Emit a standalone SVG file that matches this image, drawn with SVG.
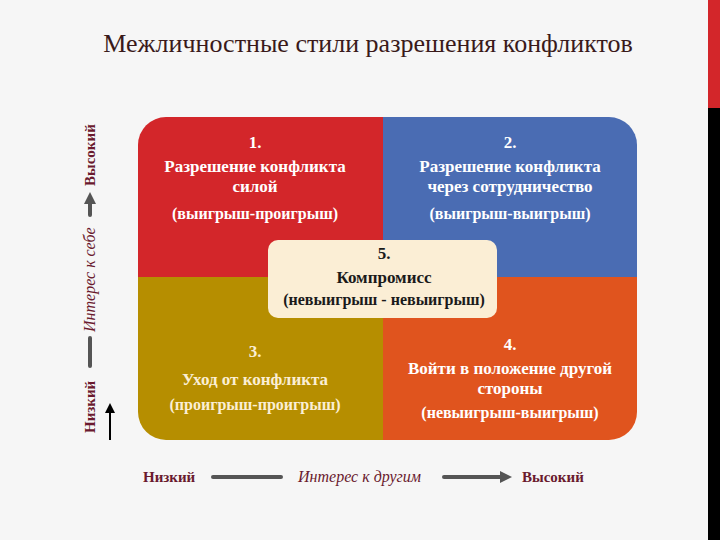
<svg xmlns="http://www.w3.org/2000/svg" width="720" height="540" viewBox="0 0 720 540">
<defs>
<style>
.s{font-family:"Liberation Serif",serif;font-weight:bold}
.q{font-size:17px;text-anchor:middle}
.p{font-size:16px}
.ax{font-family:"Liberation Serif",serif;font-weight:bold;fill:#6a1a2e;font-size:15px}
.it{font-style:italic;font-weight:normal;font-size:16px}
.ln{stroke:#555;stroke-width:4;stroke-linecap:round}
</style>
<marker id="ah" viewBox="0 0 10 10" refX="5" refY="5" markerWidth="3" markerHeight="3" orient="auto"><path d="M0,0L10,5L0,10z" fill="#555"/></marker>
<marker id="bh" viewBox="0 0 10 10" refX="5" refY="5" markerWidth="5" markerHeight="5" orient="auto"><path d="M0,0L10,5L0,10z" fill="#000"/></marker>
<clipPath id="c"><rect x="138" y="117" width="499" height="323" rx="28"/></clipPath>
</defs>
<rect width="720" height="540" fill="#f6f6f6"/>
<rect x="708" y="0" width="12" height="108" fill="#d3262a"/>
<rect x="708" y="108" width="12" height="432" fill="#000"/>
<text x="368" y="52" font-family="Liberation Serif,serif" font-size="26" fill="#3a1a1a" text-anchor="middle">Межличностные стили разрешения конфликтов</text>
<g id="matrix" clip-path="url(#c)">
<rect x="138" y="117" width="245" height="160" fill="#d3262a"/>
<rect x="383" y="117" width="254" height="160" fill="#4a6cb3"/>
<rect x="138" y="277" width="245" height="163" fill="#b68e00"/>
<rect x="383" y="277" width="254" height="163" fill="#e0541e"/>
</g>
<g id="q1" class="s q" fill="#fff">
<text x="255" y="148">1.</text>
<text x="255" y="172">Разрешение конфликта</text>
<text x="255" y="192">силой</text>
<text x="255" y="219" class="p">(выигрыш-проигрыш)</text>
</g>
<g id="q2" class="s q" fill="#fff">
<text x="510" y="148">2.</text>
<text x="510" y="172">Разрешение конфликта</text>
<text x="510" y="192">через сотрудничество</text>
<text x="510" y="219" class="p">(выигрыш-выигрыш)</text>
</g>
<g id="q3" class="s q" fill="#fbeed5">
<text x="255" y="357">3.</text>
<text x="255" y="385">Уход от конфликта</text>
<text x="255" y="410" class="p">(проигрыш-проигрыш)</text>
</g>
<g id="q4" class="s q" fill="#fff">
<text x="510" y="350">4.</text>
<text x="510" y="374">Войти в положение другой</text>
<text x="510" y="394">стороны</text>
<text x="510" y="418" class="p">(невыигрыш-выигрыш)</text>
</g>
<g id="q5">
<rect x="268" y="240" width="229" height="78" rx="10" fill="#fbeed5"/>
<g class="s q" fill="#1a1a1a">
<text x="384" y="259">5.</text>
<text x="384" y="283">Компромисс</text>
<text x="384" y="305" class="p">(невыигрыш - невыигрыш)</text>
</g>
</g>
<g id="axis-y">
<text class="ax" transform="translate(95,186) rotate(-90)">Высокий</text>
<text class="ax it" transform="translate(95,332) rotate(-90)">Интерес к себе</text>
<text class="ax" transform="translate(95,433) rotate(-90)">Низкий</text>
</g>
<g id="axis-x">
<text class="ax" x="143" y="482">Низкий</text>
<text class="ax it" x="298" y="482">Интерес к другим</text>
<text class="ax" x="522" y="482">Высокий</text>
</g>
<g id="connectors">
<line class="ln" x1="90" y1="215" x2="90" y2="198" marker-end="url(#ah)"/>
<line class="ln" x1="90" y1="338" x2="90" y2="366"/>
<line x1="110" y1="440" x2="110" y2="408" stroke="#000" stroke-width="2" marker-end="url(#bh)"/>
<line class="ln" x1="281" y1="477" x2="213" y2="477"/>
<line class="ln" x1="444" y1="477" x2="506" y2="477" marker-end="url(#ah)"/>
</g>
</svg>
